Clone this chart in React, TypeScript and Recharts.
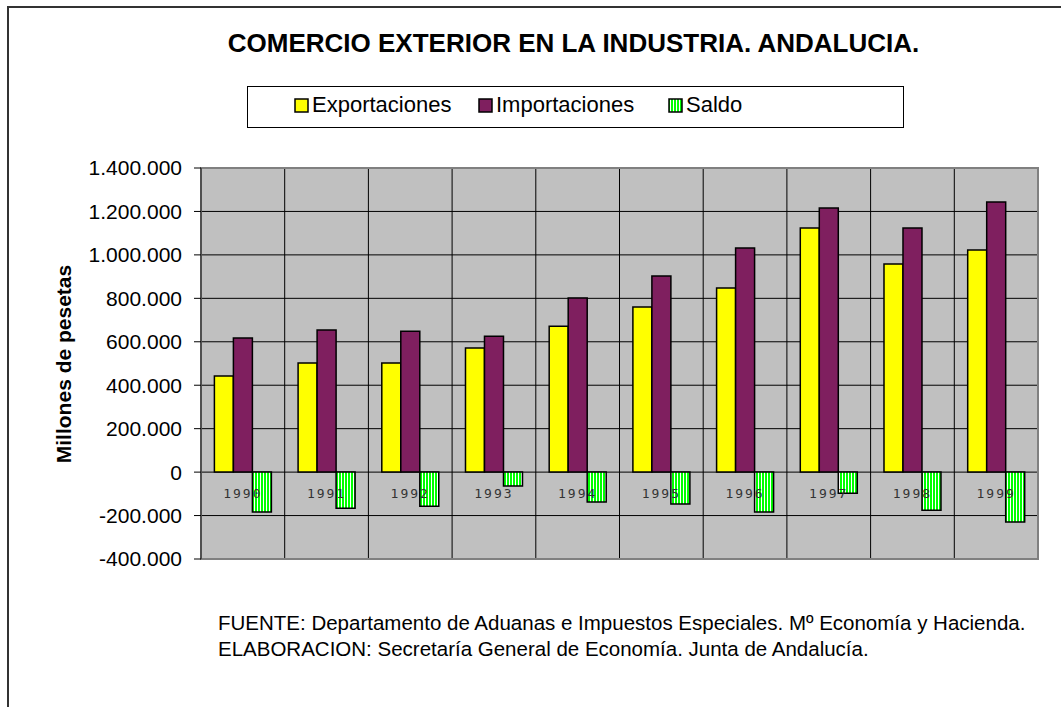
import React from "react";
import {
  BarChart,
  Bar,
  XAxis,
  YAxis,
  CartesianGrid,
  ReferenceArea,
} from "recharts";

const years = ["1990", "1991", "1992", "1993", "1994", "1995", "1996", "1997", "1998", "1999"];
const exportaciones = [442000, 502000, 502000, 571000, 672000, 760000, 847000, 1124000, 958000, 1022000];
const importaciones = [617000, 654000, 649000, 626000, 801000, 903000, 1032000, 1216000, 1124000, 1243000];
const saldo = [-184000, -166000, -157000, -64000, -138000, -147000, -184000, -97000, -175000, -230000];
const yTicks = [-400000, -200000, 0, 200000, 400000, 600000, 800000, 1000000, 1200000, 1400000];

const data = years.map((year, i) => ({
  year,
  exportaciones: exportaciones[i],
  importaciones: importaciones[i],
  saldo: saldo[i],
}));

const W = 1061;
const H = 707;
const PLOT_TOP = 168;
const PLOT_BOTTOM = 559;
const PLOT_LEFT = 201;
const PLOT_RIGHT = 1038;
const X_AXIS_H = 20;

const yMin = yTicks[0];
const yMax = yTicks[yTicks.length - 1];
// y pixel of the zero line, the year labels sit just under it
const zeroY = PLOT_TOP + ((PLOT_BOTTOM - PLOT_TOP) * yMax) / (yMax - yMin);

const font = "'Liberation Sans', Arial, sans-serif";

const formatMiles = (v: number) => {
  const s = Math.abs(v).toString().replace(/\B(?=(\d{3})+(?!\d))/g, ".");
  return v < 0 ? "-" + s : s;
};

const YearTick = (props: any) => {
  const { x, payload } = props;
  return (
    <text
      x={x}
      y={zeroY + 26}
      textAnchor="middle"
      fontFamily="'DejaVu Sans Mono', monospace"
      fontSize={13}
      letterSpacing={2}
      fill="#333"
    >
      {payload.value}
    </text>
  );
};

const legendItems = [
  { label: "Exportaciones", left: 294, fill: "#FFFF00" },
  { label: "Importaciones", left: 478, fill: "#7F1F5F" },
  { label: "Saldo", left: 668, fill: "url(#saldoStripes)" },
];

export default function App() {
  return (
    <div
      style={{
        position: "absolute",
        left: 0,
        top: 0,
        width: W,
        height: H,
        overflow: "hidden",
        background: "#fff",
        fontFamily: font,
      }}
    >
      <div
        style={{
          position: "absolute",
          left: 0,
          width: W + 86,
          top: 28,
          textAlign: "center",
          fontWeight: "bold",
          fontSize: 26,
          color: "#000",
        }}
      >
        COMERCIO EXTERIOR EN LA INDUSTRIA. ANDALUCIA.
      </div>

      <div
        style={{
          position: "absolute",
          left: 247,
          top: 86,
          width: 655,
          height: 40,
          border: "1px solid #000",
        }}
      />
      <svg width={0} height={0} style={{ position: "absolute" }}>
        <defs>
          <pattern id="saldoStripes" width={3} height={4} patternUnits="userSpaceOnUse">
            <rect width={3} height={4} fill="#00FF00" />
            <rect x={2} width={1} height={4} fill="#fff" />
          </pattern>
        </defs>
      </svg>
      {legendItems.map((item) => (
        <div
          key={item.label}
          style={{
            position: "absolute",
            left: item.left,
            top: 92,
            display: "flex",
            alignItems: "center",
            fontSize: 22,
          }}
        >
          <svg width={16} height={16} style={{ marginRight: 2 }}>
            <rect x={1} y={2} width={13} height={13} fill={item.fill} stroke="#000" strokeWidth={1.5} />
          </svg>
          <span>{item.label}</span>
        </div>
      ))}

      <div
        style={{
          position: "absolute",
          left: 64,
          top: (PLOT_TOP + PLOT_BOTTOM) / 2,
          transform: "translate(-50%, -50%) rotate(-90deg)",
          whiteSpace: "nowrap",
          fontWeight: "bold",
          fontSize: 21,
        }}
      >
        Millones de pesetas
      </div>

      <div style={{ position: "absolute", left: 0, top: 0 }}>
        <BarChart
          width={W}
          height={H}
          data={data}
          margin={{
            top: PLOT_TOP,
            right: W - PLOT_RIGHT,
            bottom: H - PLOT_BOTTOM - X_AXIS_H,
            left: 0,
          }}
          barCategoryGap="16%"
          barGap={0}
        >
          <defs>
            <pattern id="saldoBars" width={3} height={4} patternUnits="userSpaceOnUse">
              <rect width={3} height={4} fill="#00FF00" />
              <rect x={2} width={1} height={4} fill="#fff" />
            </pattern>
          </defs>
          <CartesianGrid
            stroke="#000"
            fill="#C0C0C0"
            fillOpacity={1}
            verticalCoordinatesGenerator={({ offset }: any) =>
              years.map((_, i) => offset.left + (i * offset.width) / years.length).concat(offset.left + offset.width)
            }
          />
          <ReferenceArea
            y1={yMin}
            y2={yMax}
            x1={years[0]}
            x2={years[years.length - 1]}
            fill="none"
            stroke="#808080"
            strokeWidth={2}
          />
          <XAxis
            dataKey="year"
            height={X_AXIS_H}
            axisLine={false}
            tickLine={false}
            tick={<YearTick />}
            interval={0}
          />
          <YAxis
            width={PLOT_LEFT}
            domain={[yMin, yMax]}
            ticks={yTicks}
            interval={0}
            tickFormatter={formatMiles}
            tickSize={7}
            tickMargin={12}
            axisLine={{ stroke: "#505050", strokeWidth: 2 }}
            tickLine={{ stroke: "#000" }}
            tick={{ fill: "#000", fontSize: 21, fontFamily: font }}
          />
          <Bar dataKey="exportaciones" fill="#FFFF00" stroke="#000" strokeWidth={1.5} isAnimationActive={false} />
          <Bar dataKey="importaciones" fill="#7F1F5F" stroke="#000" strokeWidth={1.5} isAnimationActive={false} />
          <Bar dataKey="saldo" fill="url(#saldoBars)" stroke="#000" strokeWidth={1.5} isAnimationActive={false} />
        </BarChart>
      </div>

      <div
        style={{
          position: "absolute",
          left: 218,
          top: 610,
          fontSize: 20.5,
          lineHeight: "26px",
          color: "#000",
        }}
      >
        <div>FUENTE: Departamento de Aduanas e Impuestos Especiales. Mº Economía y Hacienda.</div>
        <div>ELABORACION: Secretaría General de Economía. Junta de Andalucía.</div>
      </div>

      {/* outer frame, only its top and left edges fall inside the picture */}
      <div style={{ position: "absolute", left: 7, top: 6, width: W, height: 2, background: "#333" }} />
      <div style={{ position: "absolute", left: 7, top: 6, width: 2, height: H, background: "#333" }} />
    </div>
  );
}
